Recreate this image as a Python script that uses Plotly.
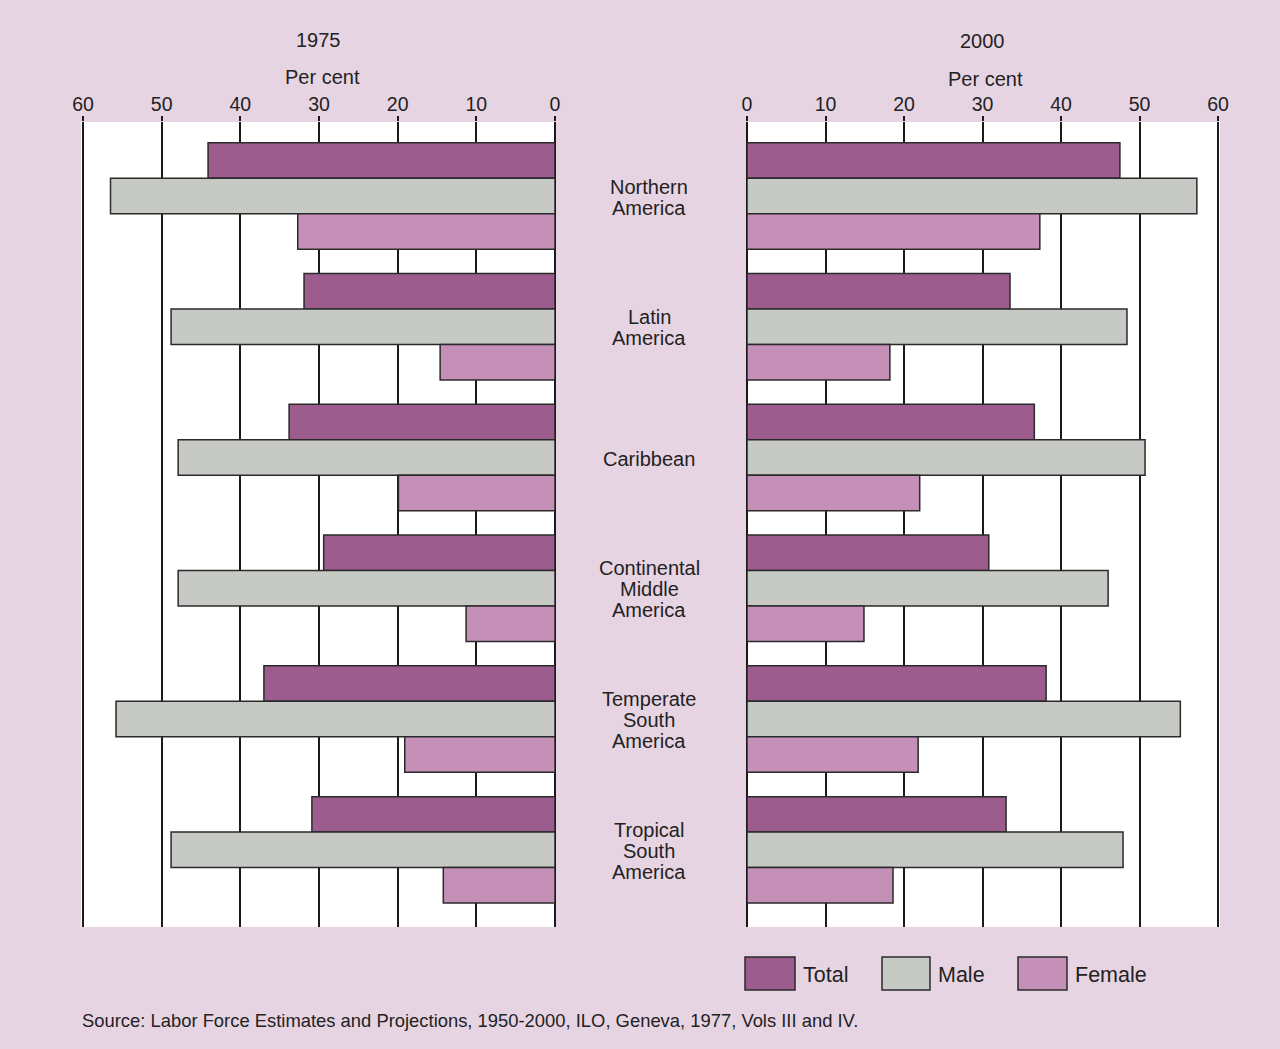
import plotly.graph_objects as go

regions = ["Northern America", "Latin America", "Caribbean",
           "Continental Middle America", "Temperate South America", "Tropical South America"]
region_lines = [["Northern", "America"], ["Latin", "America"], ["Caribbean"],
                ["Continental", "Middle", "America"], ["Temperate", "South", "America"],
                ["Tropical", "South", "America"]]

total_1975 = [44.1, 31.9, 33.8, 29.4, 37.0, 30.9]
male_1975 = [56.5, 48.8, 47.9, 47.9, 55.8, 48.8]
female_1975 = [32.7, 14.6, 19.9, 11.3, 19.1, 14.2]

total_2000 = [47.5, 33.5, 36.6, 30.8, 38.1, 33.0]
male_2000 = [57.3, 48.4, 50.7, 46.0, 55.2, 47.9]
female_2000 = [37.3, 18.2, 22.0, 14.9, 21.8, 18.6]

tick_vals = [0, 10, 20, 30, 40, 50, 60]

C_TOTAL = "#9c5c8e"
C_MALE = "#c6c9c4"
C_FEMALE = "#c490b8"
BG = "#e7d4e3"
W, H = 1280, 1049
FONT = "Liberation Sans, Arial"

def px(x):
    return x / W

def py(y):
    return 1 - y / H

fig = go.Figure()
series = [("Total", C_TOTAL, total_1975, total_2000),
          ("Male", C_MALE, male_1975, male_2000),
          ("Female", C_FEMALE, female_1975, female_2000)]
for name, col, v75, v00 in series:
    fig.add_trace(go.Bar(y=regions, x=v75, orientation="h", name=name,
                         marker=dict(color=col, line=dict(color="#2a2a2a", width=1.5)),
                         xaxis="x", yaxis="y", showlegend=False))
    fig.add_trace(go.Bar(y=regions, x=v00, orientation="h", name=name,
                         marker=dict(color=col, line=dict(color="#2a2a2a", width=1.5)),
                         xaxis="x2", yaxis="y2", showlegend=False))

yr = [5.59, -0.566]
axis_common = dict(tickvals=tick_vals, showgrid=True, gridcolor="#1a1a1a", gridwidth=1.5,
                   zeroline=True, zerolinecolor="#1a1a1a", zerolinewidth=1.5,
                   side="top", ticks="outside", ticklen=5, tickcolor="#1a1a1a", tickwidth=1.5,
                   ticklabelstandoff=-3,
                   tickfont=dict(family=FONT, size=19.5, color="#222"),
                   showline=False, fixedrange=True, automargin=False)
yaxis_common = dict(domain=[py(927), py(122)], range=yr, showticklabels=False, showgrid=False,
                    zeroline=False, type="category", categoryorder="array",
                    categoryarray=regions, automargin=False, fixedrange=True)
fig.update_layout(
    width=W, height=H,
    paper_bgcolor=BG, plot_bgcolor="white",
    margin=dict(l=0, r=0, t=0, b=0, pad=0, autoexpand=False),
    barmode="group", bargap=0.186, bargroupgap=0,
    showlegend=False,
    xaxis=dict(domain=[px(81), px(555)], range=[60.25, 0], anchor="y", **axis_common),
    xaxis2=dict(domain=[px(747), px(1220)], range=[0, 60.25], anchor="y2", **axis_common),
    yaxis=dict(anchor="x", **yaxis_common),
    yaxis2=dict(anchor="x2", **yaxis_common),
    font=dict(family=FONT, color="#222"),
)

ann = []
def text(x, y, s, size=20, xanchor="center"):
    ann.append(dict(x=px(x), y=py(y), xref="paper", yref="paper", text=s, showarrow=False,
                    xanchor=xanchor, yanchor="middle",
                    font=dict(family=FONT, size=size, color="#222")))

text(318, 40, "1975")
text(322, 77, "Per cent")
text(982, 41, "2000")
text(985, 79, "Per cent")

LS = 21
for r, lines in zip(regions, region_lines):
    n = len(lines)
    for i, ln in enumerate(lines):
        ann.append(dict(x=px(649), y=r, xref="paper", yref="y", text=ln, showarrow=False,
                        xanchor="center", yanchor="middle",
                        yshift=-LS * (i - (n - 1) / 2) - 1,
                        font=dict(family=FONT, size=20, color="#222")))

shapes = []
leg = [("Total", C_TOTAL, 745, 795), ("Male", C_MALE, 882, 930), ("Female", C_FEMALE, 1018, 1067)]
for name, col, x0, x1 in leg:
    shapes.append(dict(type="rect", xref="paper", yref="paper", x0=px(x0), x1=px(x1),
                       y0=py(990), y1=py(957), fillcolor=col,
                       line=dict(color="#2a2a2a", width=1.5)))
    text(x1 + 6, 975, name, size=21.5, xanchor="left")

text(80, 1020, "Source: Labor Force Estimates and Projections, 1950-2000, ILO, Geneva, 1977, Vols III and IV.",
     size=18.4, xanchor="left")

fig.update_layout(annotations=ann, shapes=shapes)
fig.write_html("out.html", config={"displayModeBar": False},
               post_script="document.body.style.margin='0';document.body.style.overflow='hidden';")
